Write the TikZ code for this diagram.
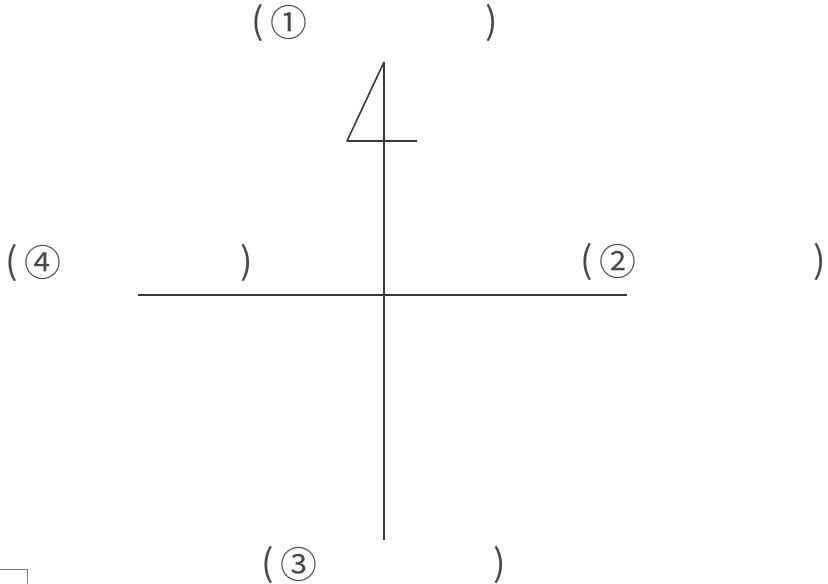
\documentclass[tikz,border=0pt]{standalone}
\usepackage{fontspec}
\setmainfont{DejaVu Sans}
\newfontfamily\cjk{Noto Sans CJK SC}
\usepackage{tikz}
\definecolor{ink}{HTML}{3A3A3A}
\definecolor{pen}{HTML}{4A4A4A}
\tikzset{
  axisline/.style={draw=ink,line width=0.9pt},
  blank/.style={font=\cjk\fontsize{21}{21}\selectfont,text=pen,inner sep=0pt},
}
\newcommand{\blankat}[5]{%
  \node[blank] (#1o) at (#2,#4) {(};
  \node[blank] (#1n) at (#2+31,#4-1) {#5};
  \node[blank] (#1c) at (#3,#4) {)};
}

\begin{document}
\begin{tikzpicture}[x=0.02cm,y=-0.02cm]
\useasboundingbox (0,0) rectangle (828,584);
% cross and the little flag
\coordinate (top) at (384,62);
\coordinate (bot) at (384,540);
\coordinate (west) at (138,295);
\coordinate (east) at (627,295);
\coordinate (tip) at (347,141);
\coordinate (bar) at (417,141);
\draw[axisline] (top) -- (bot);
\draw[axisline] (west) -- (east);
\draw[axisline,line join=round] (top) -- (tip) -- (bar);
% answer blanks
\blankat{up}{258}{492}{23}{①}
\blankat{rt}{587}{820}{262}{②}
\blankat{dn}{268}{500}{565}{③}
\blankat{lf}{12}{247}{263}{④}
% scrap in the corner
\draw[gray,thin] (-2,569) -- (27,569) -- (27,590);
\end{tikzpicture}
\end{document}
